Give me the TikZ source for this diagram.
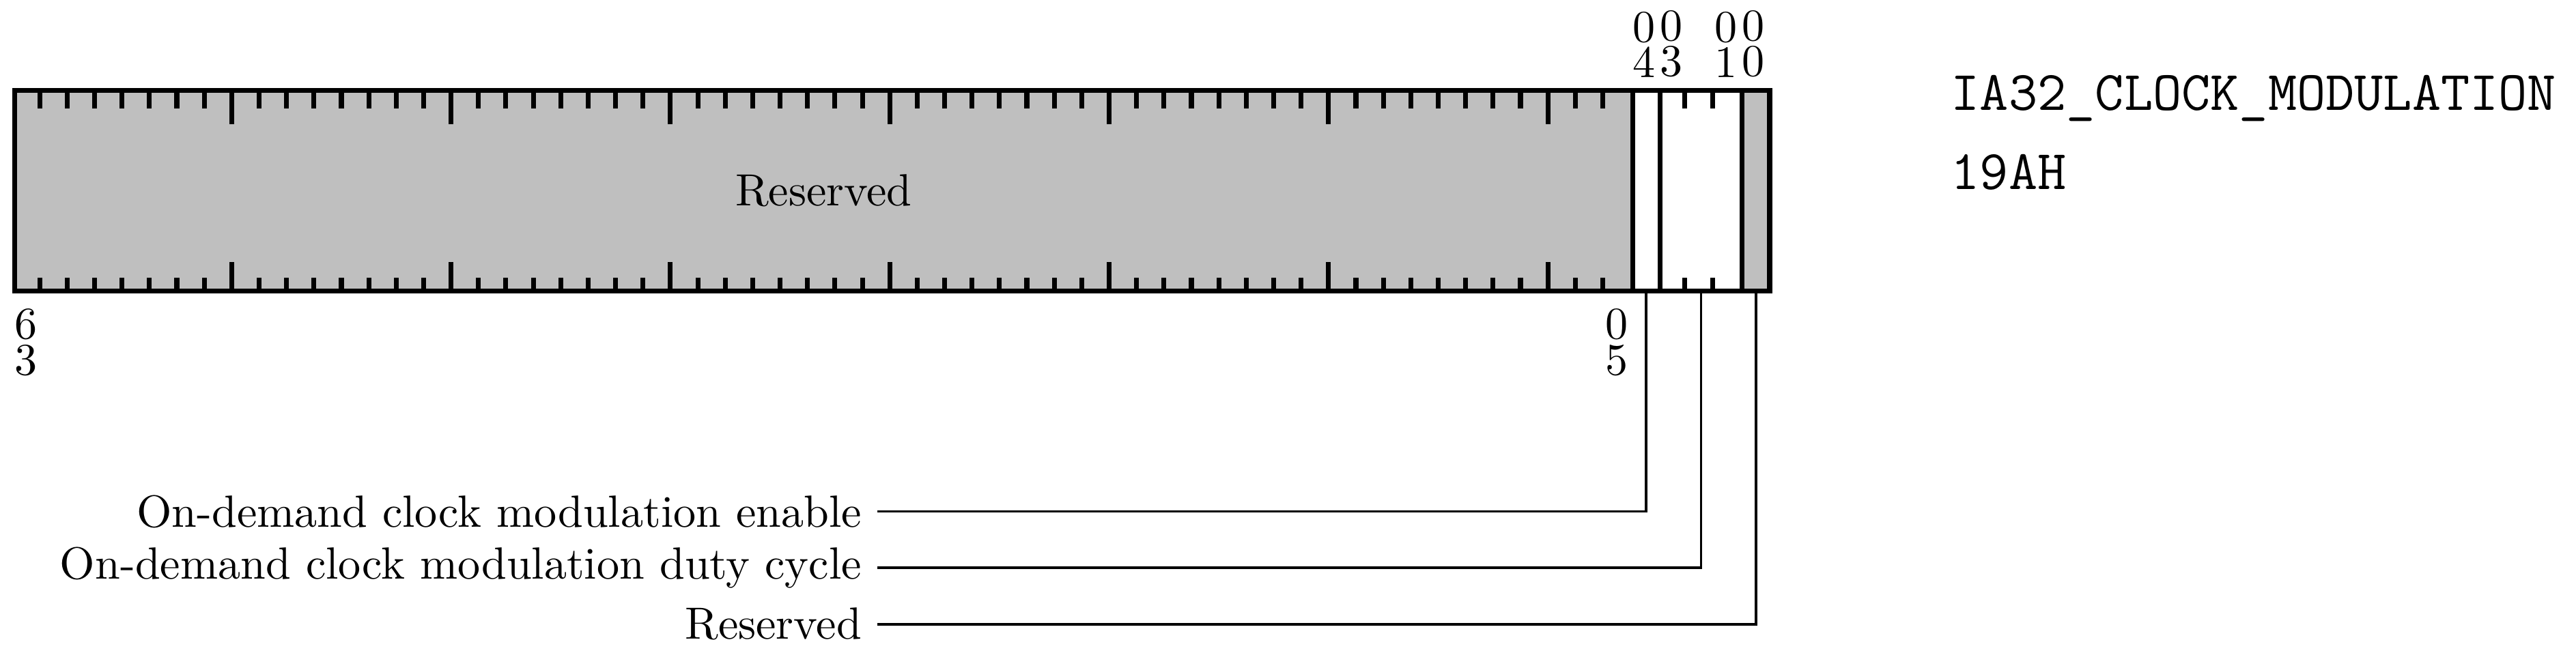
\documentclass[tikz,border=0pt]{standalone}
\usepackage{tikz}

\begin{document}
\begin{tikzpicture}[every node/.style={font=\fontsize{10.25}{12.3}\selectfont},
	regfield/.style={draw, line width=1.1pt, minimum height=1.6cm, inner sep=0pt, anchor=south west},
	bitnum/.style={align=center, font=\fontsize{10.25}{8.1}\selectfont},
	fieldlbl/.style={anchor=east},
	regname/.style={anchor=base west, inner sep=0pt, font=\fontsize{12.7}{15}\selectfont\ttfamily},
	leader/.style={semithick}]
	\useasboundingbox (-0.098,-2.870) rectangle (20.452,2.342);
	\node[regfield, fill=black!25, minimum width=12.906cm] (rsvdhi) at (0,0) {Reserved};
	\node[regfield, minimum width=0.219cm] (enbit) at (12.906,0) {};
	\node[regfield, minimum width=0.656cm] (duty) at (13.125,0) {};
	\node[regfield, fill=black!25, minimum width=0.219cm] (rsvdlo) at (13.781,0) {};
	\foreach \k in {1,...,58,61,62} {\draw[line width=1.1pt] (\k*0.21875,1.6) -- ++(0,-0.125) (\k*0.21875,0) -- ++(0,0.125);}
	\foreach \k in {8,16,...,56} {\draw[line width=1.1pt] (\k*0.21875,1.6) -- ++(0,-0.25) (\k*0.21875,0) -- ++(0,0.25);}
	\node[bitnum, anchor=south] (b04) at (13.016,1.6) {0\\4};
	\node[bitnum, anchor=south] (b03) at (13.234,1.6) {0\\3};
	\node[bitnum, anchor=south] (b01) at (13.672,1.6) {0\\1};
	\node[bitnum, anchor=south] (b00) at (13.891,1.6) {0\\0};
	\node[bitnum, anchor=north] (b63) at (0.109,0) {6\\3};
	\node[bitnum, anchor=north] (b05) at (12.797,0) {0\\5};
	\node[fieldlbl] (lblen) at (6.9,-1.74) {On-demand clock modulation enable};
	\node[fieldlbl] (lbldc) at (6.9,-2.19) {On-demand clock modulation duty cycle};
	\node[fieldlbl] (lblrs) at (6.9,-2.64) {Reserved};
	\draw[leader] (enbit.south) |- (lblen.east);
	\draw[leader] (duty.south) |- (lbldc.east);
	\draw[leader] (rsvdlo.south) |- (lblrs.east);
	\node[regname] (msrname) at (15.46,1.465) {IA32\_CLOCK\_MODULATION};
	\node[regname] (msraddr) at (15.46,0.828) {19AH};
\end{tikzpicture}
\end{document}
